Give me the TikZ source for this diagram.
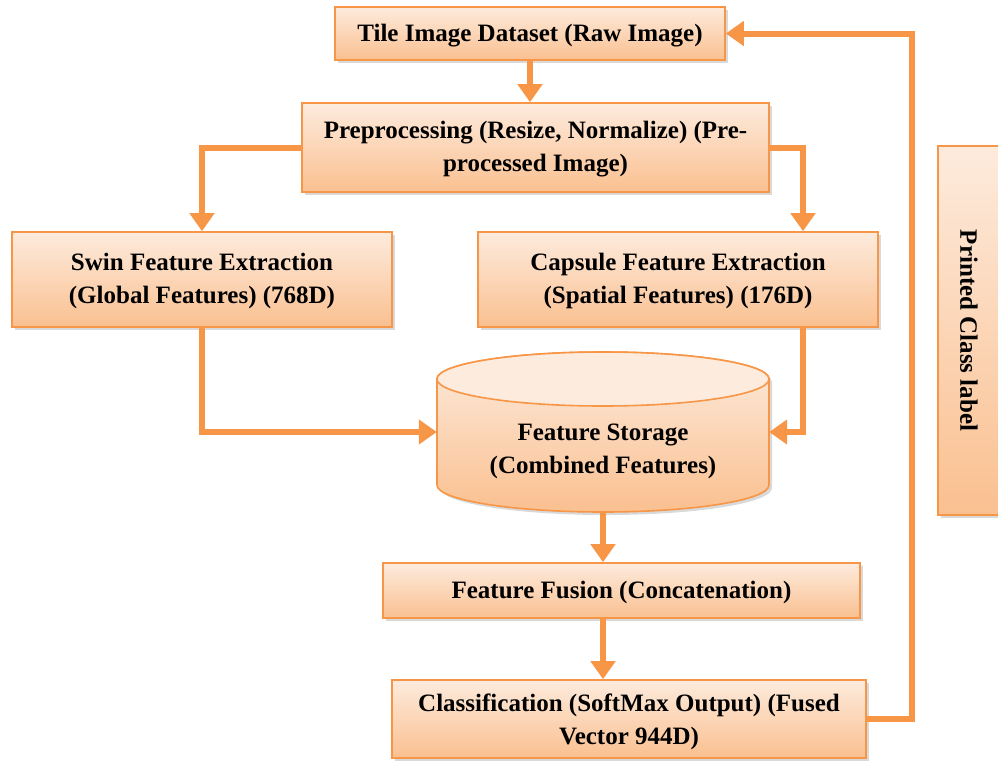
\documentclass[tikz,border=0pt]{standalone}
\usepackage{fontspec}
\setmainfont{Liberation Serif}
\usetikzlibrary{arrows.meta,shadows,calc}
\definecolor{orl}{HTML}{F79646}
\definecolor{pkt}{HTML}{FDEBDD}
\definecolor{pkb}{HTML}{FAC090}
\begin{document}
\begin{tikzpicture}[x=1pt,y=-1pt,
  shade/.style={draw=orl, line width=1.6pt, top color=pkt, bottom color=pkb,
    drop shadow={shadow xshift=3pt, shadow yshift=-3pt, opacity=0.3}},
  box/.style={shade, minimum width=#1, inner sep=0pt},
  txt/.style={font=\fontsize{25}{33}\selectfont\bfseries, align=center, inner sep=0pt},
  conn/.style={orl, line width=6pt, -{Triangle[width=24pt,length=18pt]}},
  plainline/.style={orl, line width=6pt}]
\useasboundingbox (0,0) rectangle (998,763);

% boxes
\node[box=390pt, minimum height=53pt] (tile) at (530,33.5) {};
\node[txt] (tiletxt) at (530,35.5) {Tile Image Dataset (Raw Image)};
\node[box=467pt, minimum height=89pt] (pre) at (535.5,147.5) {};
\node[txt] (pretxt) at (535.5,149) {Preprocessing (Resize, Normalize) (Pre-\\processed Image)};
\node[box=380pt, minimum height=95pt] (swin) at (202,279.5) {};
\node[txt] (swintxt) at (202,281) {Swin Feature Extraction\\(Global Features) (768D)};
\node[box=400pt, minimum height=95pt] (caps) at (678,279.5) {};
\node[txt] (capstxt) at (678,281) {Capsule Feature Extraction\\(Spatial Features) (176D)};
\node[box=477pt, minimum height=55pt] (fusion) at (621.5,590.5) {};
\node[txt] (fusiontxt) at (621.5,592) {Feature Fusion (Concatenation)};
\node[box=474pt, minimum height=78pt] (class) at (629,719) {};
\node[txt] (classtxt) at (629,722) {Classification (SoftMax Output) (Fused\\Vector 944D)};
\node[box=62pt, minimum height=369pt] (printed) at (969,330.5) {};
\node[txt, rotate=-90] (printedtxt) at (printed.center) {Printed Class label};

% cylinder (feature storage)
\node[minimum width=332pt, minimum height=160pt, inner sep=0pt] (store) at (603,432) {};
\path[shade] (437,379) -- (437,485) arc[start angle=180, end angle=0, x radius=166, y radius=27]
  -- (769,379) arc[start angle=0, end angle=-180, x radius=166, y radius=27] -- cycle;
\draw[orl, line width=1.6pt, fill=pkt] (603,379) ellipse[x radius=166, y radius=27];
\node[txt] (storetxt) at (603,451) {Feature Storage\\(Combined Features)};

% connectors
\coordinate (fbx) at (912,380);
\draw[conn] (tile.south) -- (tile.south |- pre.north);
\draw[conn] (pre.west) -| (swin.north);
\draw[conn] (pre.east) -| ([xshift=125pt]caps.north);
\draw[conn] (swin.south) |- (store.west);
\draw[conn] ([xshift=125pt]caps.south) |- (store.east);
\draw[conn] (store.south) -- (store.south |- fusion.north);
\draw[conn] (store.south |- fusion.south) -- (store.south |- class.north);
\draw[conn] (class.east) -| (fbx) |- (tile.east);
\end{tikzpicture}
\end{document}
